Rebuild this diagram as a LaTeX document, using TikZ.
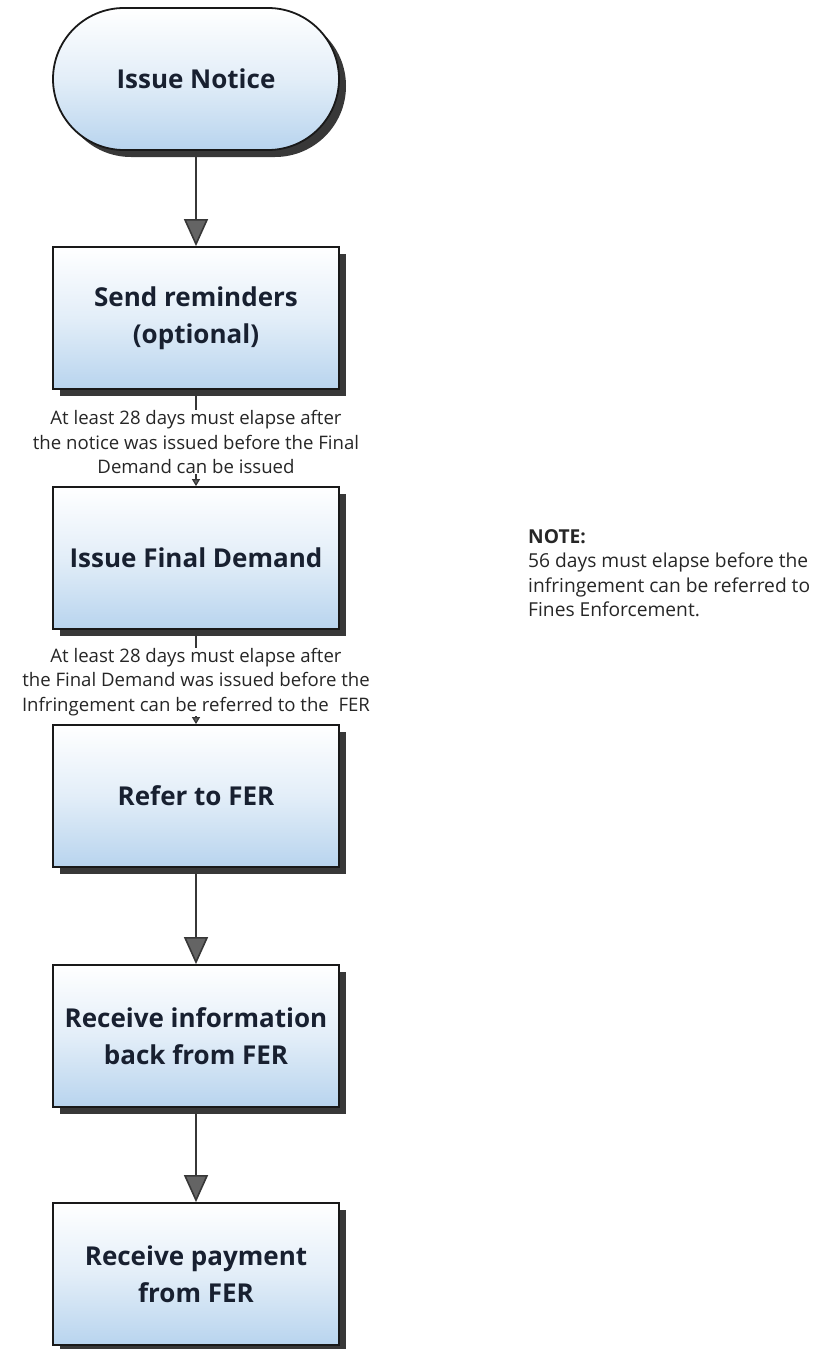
\documentclass[tikz,border=0pt]{standalone}
\usepackage{fontspec}
\setmainfont{Open Sans}
\usetikzlibrary{arrows.meta,shadows,positioning}
\definecolor{boxblue}{RGB}{184,212,238}
\definecolor{boxtext}{RGB}{24,32,48}
\definecolor{linegray}{RGB}{55,55,55}
\definecolor{headgray}{RGB}{100,100,100}
\tikzset{
  flowbox/.style={draw=black!90, line width=1.8pt, minimum width=286pt, minimum height=142pt,
    top color=white, bottom color=boxblue, middle color=white!60!boxblue,
    text=boxtext, font=\fontsize{26}{37}\selectfont\bfseries, align=center,
    drop shadow={shadow xshift=7pt, shadow yshift=-7pt, fill=black!78, opacity=1}},
  startbox/.style={flowbox, rounded corners=71pt},
  bigarrow/.style={draw=linegray, line width=1.6pt,
    -{Triangle[length=27pt,width=24pt,fill=headgray]}},
  smallarrow/.style={draw=linegray, line width=1.2pt,
    -{Triangle[length=7pt,width=8pt,fill=headgray]}},
  steplabel/.style={fill=white, inner sep=0pt, align=center, text=black!85,
    font=\fontsize{18.6}{24.5}\selectfont},
  notetext/.style={inner sep=0pt, align=left, anchor=north west, text=black!85,
    font=\fontsize{19.2}{24.5}\selectfont}
}
\begin{document}
\begin{tikzpicture}[x=1pt,y=-1pt]
\useasboundingbox (0,0) rectangle (819,1349);
\node[startbox] (notice) at (196,79) {Issue Notice};
\node[flowbox] (remind) at (196,318) {Send reminders\\(optional)};
\node[flowbox] (final) at (196,558) {Issue Final Demand};
\node[flowbox] (refer) at (196,796) {Refer to FER};
\node[flowbox] (info) at (196,1036) {Receive information\\back from FER};
\node[flowbox] (pay) at (196,1274) {Receive payment\\from FER};

\draw[bigarrow] (notice.south) -- (remind.north);
\draw[smallarrow] (remind.south) -- (final.north);
\draw[smallarrow] (final.south) -- (refer.north);
\draw[bigarrow] (refer.south) -- (info.north);
\draw[bigarrow] (info.south) -- (pay.north);

\node[steplabel] (lab1) at (196,442) {At least 28 days must elapse after\\the notice was issued before the Final\\Demand can be issued};
\node[steplabel] (lab2) at (196,682) {At least 28 days must elapse after\\the Final Demand was issued before the\\Infringement can be referred to the\ \ FER};

\node[notetext] (note) at (528,529) {\textbf{NOTE:}\\56 days must elapse before the\\infringement can be referred to\\Fines Enforcement.};
\end{tikzpicture}
\end{document}
